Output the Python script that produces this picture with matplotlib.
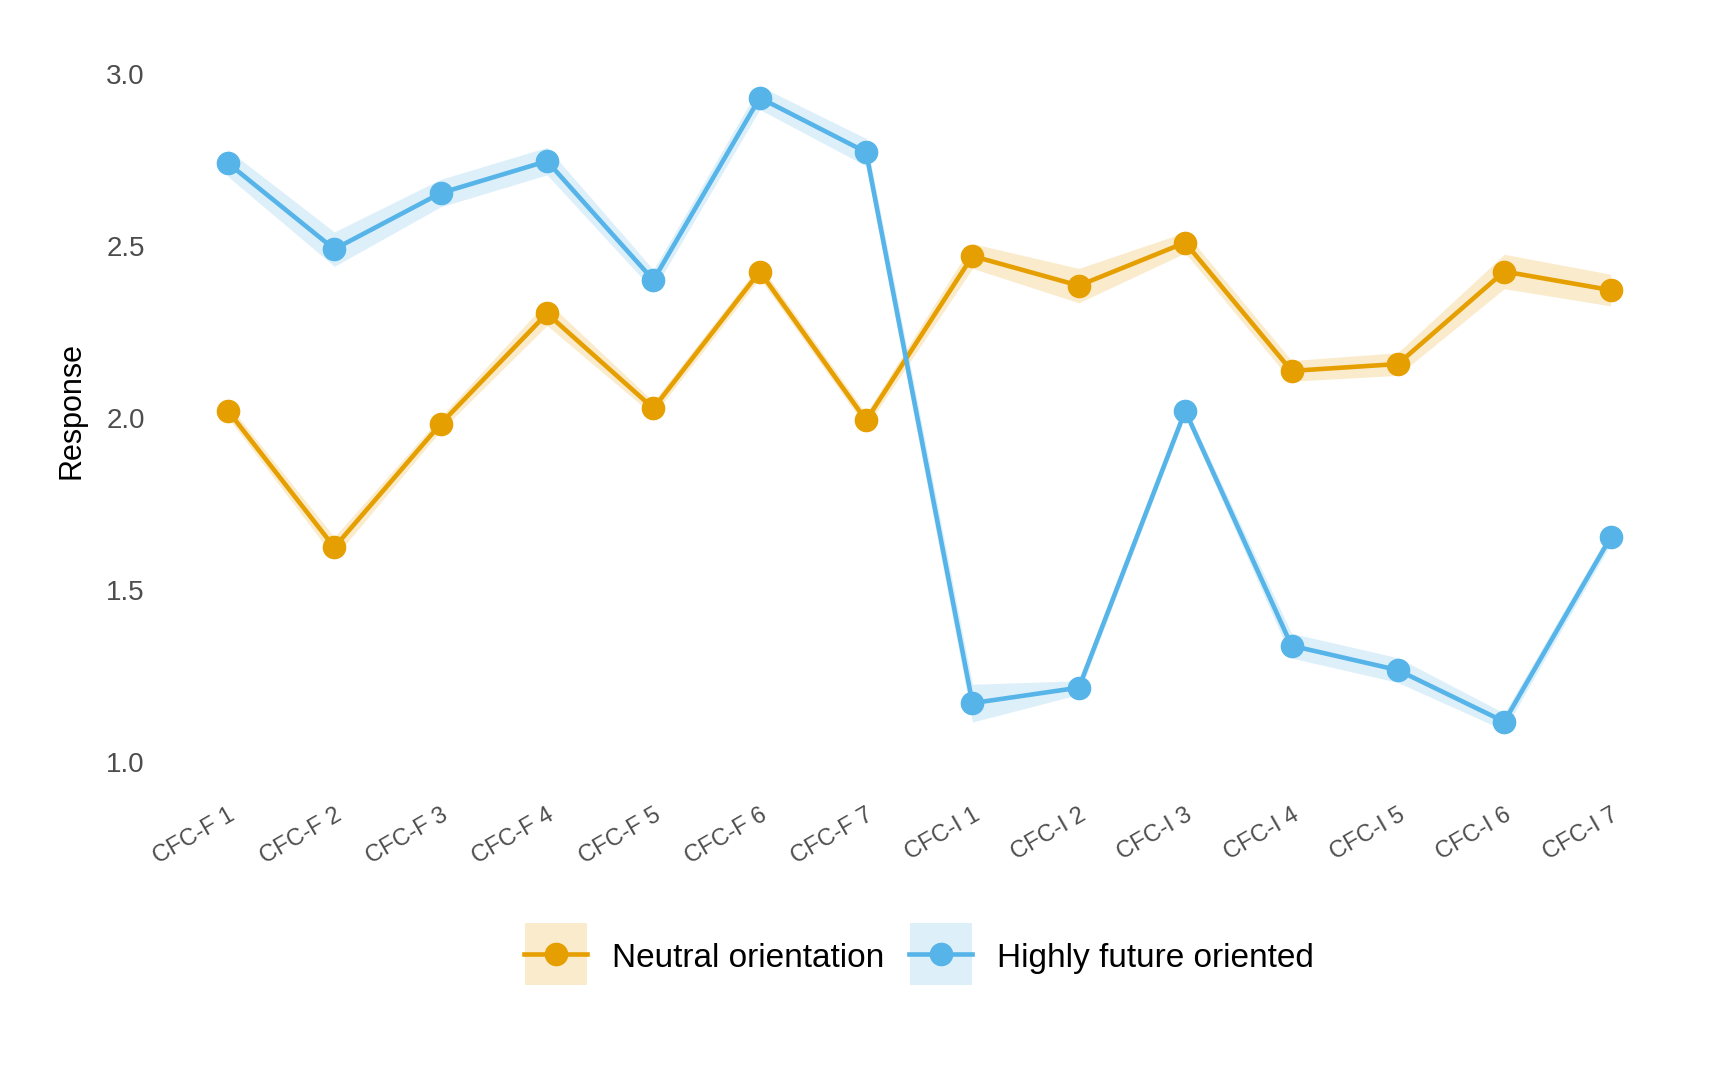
import matplotlib.pyplot as plt
from matplotlib.lines import Line2D
from matplotlib.legend_handler import HandlerTuple

plt.rcParams['font.family'] = ['Liberation Sans', 'DejaVu Sans']

items = ['CFC-F 1', 'CFC-F 2', 'CFC-F 3', 'CFC-F 4', 'CFC-F 5', 'CFC-F 6', 'CFC-F 7',
         'CFC-I 1', 'CFC-I 2', 'CFC-I 3', 'CFC-I 4', 'CFC-I 5', 'CFC-I 6', 'CFC-I 7']

neutral = [2.02, 1.623, 1.982, 2.303, 2.027, 2.425, 1.992,
           2.47, 2.384, 2.509, 2.136, 2.156, 2.425, 2.371]
neutral_se = [0.02, 0.03, 0.02, 0.035, 0.02, 0.02, 0.02,
              0.036, 0.05, 0.03, 0.03, 0.033, 0.05, 0.046]

future = [2.74, 2.49, 2.653, 2.746, 2.40, 2.93, 2.772,
          1.17, 1.215, 2.02, 1.337, 1.266, 1.116, 1.652]
future_se = [0.039, 0.05, 0.04, 0.04, 0.03, 0.034, 0.04,
             0.055, 0.02, 0.015, 0.036, 0.036, 0.025, 0.02]

groups = [
    ('Neutral orientation', neutral, neutral_se, '#E69F00'),
    ('Highly future oriented', future, future_se, '#56B4E9'),
]

fig = plt.figure(figsize=(17.28, 10.67), dpi=100)
ax = fig.add_axes([0.095, 0.283, 0.874, 0.664])

x = list(range(len(items)))
handles = []
for name, vals, se, col in groups:
    lo = [v - s for v, s in zip(vals, se)]
    hi = [v + s for v, s in zip(vals, se)]
    ax.fill_between(x, lo, hi, color=col, alpha=0.2, linewidth=0)
    ax.plot(x, vals, color=col, linewidth=3.3, marker='o', markersize=16)
    # legend key: light square (ribbon) behind line + point
    handles.append((Line2D([], [], marker='s', markersize=45, color=col, alpha=0.2,
                           linestyle='none', markeredgewidth=0),
                    Line2D([], [], color=col, linewidth=3.3, marker='o', markersize=16)))

ax.set_xlim(-0.6, len(items) - 0.4)
ax.set_ylim(0.99, 3.05)
ax.set_yticks([1.0, 1.5, 2.0, 2.5, 3.0])
ax.set_yticklabels(['1.0', '1.5', '2.0', '2.5', '3.0'])
ax.set_xticks(x)
ax.set_xticklabels(items, rotation=30, ha='right', va='top', rotation_mode='anchor')

for s in ax.spines.values():
    s.set_visible(False)
ax.tick_params(axis='both', length=0, colors='#4D4D4D')
ax.tick_params(axis='y', labelsize=20, pad=14)
ax.tick_params(axis='x', labelsize=17, pad=28)
ax.set_ylabel('Response', fontsize=22, labelpad=14)

ax.legend(handles, [g[0] for g in groups], handler_map={tuple: HandlerTuple(ndivide=1)},
          loc='center', bbox_to_anchor=(0.5, -0.271), ncol=2, frameon=False,
          fontsize=24, handlelength=1.89, handleheight=1.0,
          handletextpad=0.75, columnspacing=0.75)

fig.savefig('out.png', dpi=100, facecolor='white')
